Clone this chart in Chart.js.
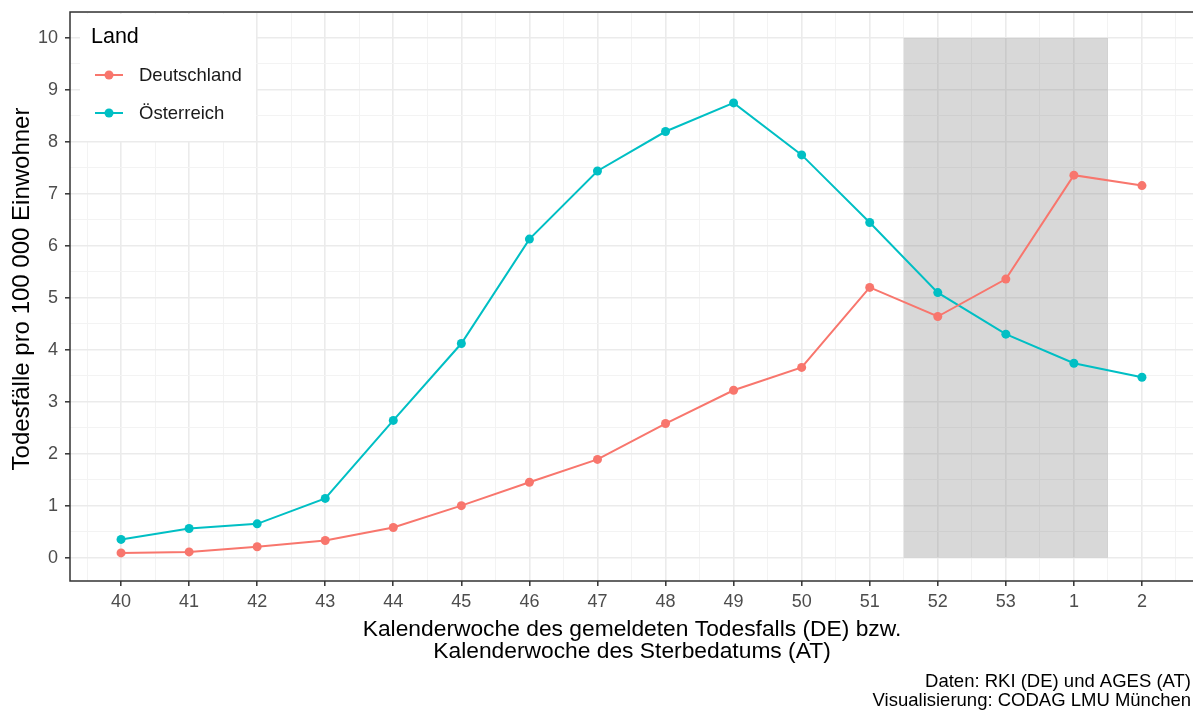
<!DOCTYPE html>
<html lang="de">
<head>
  <meta charset="UTF-8" />
  <title>Todesfälle pro 100 000 Einwohner</title>
  <script src="https://cdn.jsdelivr.net/npm/chart.js"></script>
  <style>
    body { margin: 0; padding: 0; background: #fff; }
    #wrap { width: 1193px; height: 712px; }
  </style>
</head>
<body>
  <div id="wrap"><canvas id="chart"></canvas></div>

  <script>
    const weeks = ['40', '41', '42', '43', '44', '45', '46', '47', '48', '49', '50', '51', '52', '53', '1', '2'];
    const deutschland = [0.09, 0.11, 0.21, 0.33, 0.58, 1.0, 1.45, 1.89, 2.58, 3.22, 3.66, 5.2, 4.64, 5.36, 7.36, 7.16];
    const oesterreich = [0.35, 0.56, 0.65, 1.14, 2.64, 4.12, 6.13, 7.44, 8.2, 8.75, 7.75, 6.45, 5.1, 4.3, 3.74, 3.47];
    const shadedWeeks = ['52', '53', '1'];
    const shadedTop = 10;
    const yTicks = [0, 1, 2, 3, 4, 5, 6, 7, 8, 9, 10];

    const FONT = "'Liberation Sans', Arial, sans-serif";
    const RED = '#F8766D';
    const TEAL = '#00BFC4';

    const toPoints = arr => arr.map((v, i) => ({ x: i, y: v }));

    // grey shaded band for the last weeks (uses scales)
    const shadePlugin = {
      id: 'shade',
      beforeDatasetsDraw(chart) {
        const { ctx, scales: { x, y } } = chart;
        const i0 = weeks.indexOf(shadedWeeks[0]) - 0.5;
        const i1 = weeks.indexOf(shadedWeeks[shadedWeeks.length - 1]) + 0.5;
        const x0 = x.getPixelForValue(i0), x1 = x.getPixelForValue(i1);
        const y0 = y.getPixelForValue(shadedTop), y1 = y.getPixelForValue(0);
        ctx.save();
        ctx.fillStyle = 'rgba(127,127,127,0.3)';
        ctx.fillRect(x0, y0, x1 - x0, y1 - y0);
        ctx.restore();
      }
    };

    // panel border, legend, axis titles and caption (ggplot look)
    const decorPlugin = {
      id: 'decor',
      afterDraw(chart) {
        const { ctx, chartArea: a } = chart;
        ctx.save();
        ctx.strokeStyle = '#333333';
        ctx.lineWidth = 1.5;
        ctx.beginPath();
        ctx.moveTo(a.right + 2, a.top);
        ctx.lineTo(a.left, a.top);
        ctx.lineTo(a.left, a.bottom);
        ctx.lineTo(a.right + 2, a.bottom);
        ctx.stroke();

        // legend
        ctx.fillStyle = '#ffffff';
        ctx.fillRect(a.left + 10, a.top + 2, 176, 127);
        ctx.fillStyle = '#000';
        ctx.textBaseline = 'middle';
        ctx.textAlign = 'left';
        ctx.font = '21.5px ' + FONT;
        ctx.fillText('Land', a.left + 21, a.top + 25);
        ctx.font = '18.5px ' + FONT;
        chart.data.datasets.forEach((ds, k) => {
          const yy = a.top + 63 + k * 38;
          ctx.strokeStyle = ds.borderColor;
          ctx.lineWidth = 2;
          ctx.beginPath();
          ctx.moveTo(a.left + 25, yy);
          ctx.lineTo(a.left + 53, yy);
          ctx.stroke();
          ctx.fillStyle = ds.borderColor;
          ctx.beginPath();
          ctx.arc(a.left + 39, yy, 4.5, 0, Math.PI * 2);
          ctx.fill();
          ctx.fillStyle = '#1a1a1a';
          ctx.fillText(ds.label, a.left + 69, yy + 1);
        });

        // axis titles
        ctx.fillStyle = '#000';
        ctx.textAlign = 'center';
        ctx.font = '22.8px ' + FONT;
        ctx.fillText('Kalenderwoche des gemeldeten Todesfalls (DE) bzw.', 632, 630);
        ctx.fillText('Kalenderwoche des Sterbedatums (AT)', 632, 652);
        ctx.save();
        ctx.translate(22, 289);
        ctx.rotate(-Math.PI / 2);
        ctx.font = '24px ' + FONT;
        ctx.fillText('Todesfälle pro 100 000 Einwohner', 0, 0);
        ctx.restore();

        // caption
        ctx.textAlign = 'right';
        ctx.font = '18.5px ' + FONT;
        ctx.fillText('Daten: RKI (DE) und AGES (AT)', 1191, 682);
        ctx.fillText('Visualisierung: CODAG LMU München', 1191, 701);
        ctx.restore();
      }
    };

    const isMajor = v => Math.abs(v - Math.round(v)) < 1e-6;

    const gridOpts = {
      color: c => isMajor(c.tick.value) ? '#EBEBEB' : '#F3F3F3',
      lineWidth: c => isMajor(c.tick.value) ? 1.6 : 1,
      tickColor: c => isMajor(c.tick.value) ? '#333333' : 'rgba(0,0,0,0)',
      tickLength: 5,
      tickWidth: 1.5
    };

    new Chart(document.getElementById('chart'), {
      type: 'line',
      data: {
        datasets: [
          {
            label: 'Deutschland',
            data: toPoints(deutschland),
            borderColor: RED,
            backgroundColor: RED,
            borderWidth: 2,
            pointRadius: 4.5,
            pointHoverRadius: 4.5,
            pointBorderWidth: 0,
            tension: 0
          },
          {
            label: 'Österreich',
            data: toPoints(oesterreich),
            borderColor: TEAL,
            backgroundColor: TEAL,
            borderWidth: 2,
            pointRadius: 4.5,
            pointHoverRadius: 4.5,
            pointBorderWidth: 0,
            tension: 0
          }
        ]
      },
      options: {
        responsive: true,
        maintainAspectRatio: false,
        animation: false,
        layout: { autoPadding: false, padding: { top: 12, right: 0, left: 0, bottom: 0 } },
        plugins: {
          legend: { display: false },
          tooltip: { enabled: false }
        },
        scales: {
          x: {
            type: 'linear',
            min: -0.75,
            max: weeks.length - 0.25,
            afterBuildTicks: s => {
              const t = [];
              for (let v = -0.5; v <= weeks.length - 0.5 + 1e-6; v += 0.5) t.push({ value: v });
              s.ticks = t;
            },
            afterFit: s => { s.height = 131; s.paddingLeft = 0; s.paddingRight = 0; },
            border: { display: false },
            grid: gridOpts,
            ticks: {
              autoSkip: false,
              maxRotation: 0,
              padding: 5,
              color: '#4D4D4D',
              font: { family: FONT, size: 18 },
              callback: v => isMajor(v) && weeks[Math.round(v)] !== undefined ? weeks[Math.round(v)] : ''
            }
          },
          y: {
            min: -0.45,
            max: 10.5,
            afterBuildTicks: s => {
              const t = [];
              yTicks.forEach(v => { t.push({ value: v }); t.push({ value: v + 0.5 }); });
              s.ticks = t;
            },
            afterFit: s => { s.width = 70; s.paddingTop = 0; s.paddingBottom = 0; },
            border: { display: false },
            grid: gridOpts,
            ticks: {
              autoSkip: false,
              padding: 7,
              color: '#4D4D4D',
              font: { family: FONT, size: 18 },
              callback: v => isMajor(v) && yTicks.includes(Math.round(v)) ? String(Math.round(v)) : ''
            }
          }
        }
      },
      plugins: [shadePlugin, decorPlugin]
    });
  </script>
</body>
</html>
